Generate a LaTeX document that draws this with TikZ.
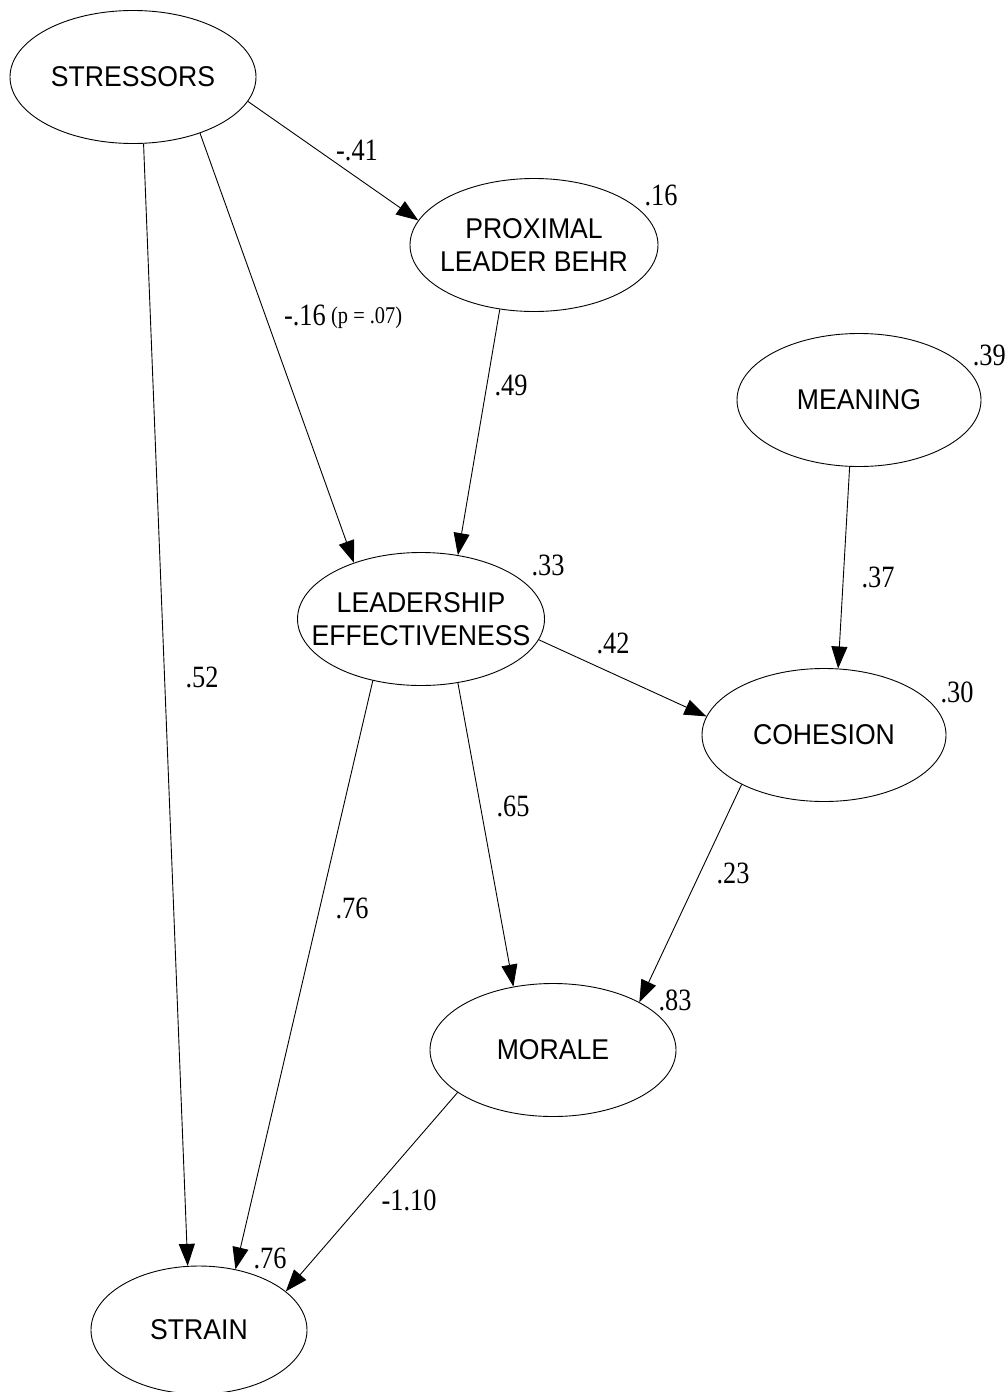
\documentclass[tikz,border=0pt]{standalone}
\usepackage{fontspec}
\usetikzlibrary{shapes.geometric,arrows.meta}
\newfontfamily\varfont[FakeStretch=0.93]{Liberation Sans}
\newfontfamily\coeffont[FakeStretch=0.85]{Liberation Serif}

\begin{document}
\begin{tikzpicture}[x=1pt,y=-1pt,
  latent/.style={ellipse, draw, line width=0.9pt, inner sep=0pt,
    minimum width=246pt, minimum height=133pt},
  varname/.style={font=\varfont\fontsize{28.6}{33}\selectfont, align=center, inner sep=0pt},
  coef/.style={font=\coeffont\fontsize{31}{34}\selectfont, inner sep=0pt},
  small/.style={font=\coeffont\fontsize{24}{28}\selectfont, inner sep=0pt},
  path/.style={line width=0.9pt, -{Triangle[length=22pt,width=16pt]}}]

\useasboundingbox (0,0) rectangle (1007,1392);

% latent variables
\node[latent, label={[varname]center:STRESSORS}] (str) at (133,77) {};
\node[latent, minimum width=248pt, label={[varname]center:{PROXIMAL\\LEADER BEHR}}] (plb) at (534,245) {};
\node[latent, minimum width=244pt, label={[varname]center:MEANING}] (mea) at (859,400) {};
\node[latent, minimum width=247pt, label={[varname]center:{LEADERSHIP\\EFFECTIVENESS}}] (lef) at (421,619) {};
\node[latent, minimum width=244pt, label={[varname]center:COHESION}] (coh) at (824,735) {};
\node[latent, label={[varname]center:MORALE}] (mor) at (553,1050) {};
\node[latent, minimum width=216pt, minimum height=128pt, label={[varname]center:STRAIN}] (stn) at (199,1330) {};

% structural paths
\draw[path] (str.-12.8) -- (plb.168.8);
\draw[path] (str.-40.5) -- (lef.140.4);
\draw[path] (str.-81.5) -- (stn.100.6);
\draw[path] (plb.-118.3) -- (lef.60.2);
\draw[path] (mea.-98.6) -- (coh.78.2);
\draw[path] (lef.-10.5) -- (coh.171.5);
\draw[path] (lef.-60.7) -- (mor.122.6);
\draw[path] (lef.-128.7) -- (stn.59.2);
\draw[path] (coh.-149) -- (mor.29.5);
\draw[path] (mor.-156.5) -- (stn.24.2);

% path coefficients
\node[coef] (c1) at (357,150) {-.41};
\node[coef, anchor=east] (c2) at (326,315) {-.16};
\node[small, anchor=west] (c2p) at (331,318) {(p = .07)};
\node[coef] (c3) at (202,677) {.52};
\node[coef] (c4) at (511,385) {.49};
\node[coef] (c5) at (878,577) {.37};
\node[coef] (c6) at (613,643) {.42};
\node[coef] (c7) at (513,806) {.65};
\node[coef] (c8) at (352,908) {.76};
\node[coef] (c9) at (733,873) {.23};
\node[coef] (c10) at (409,1200) {-1.10};

% explained variance
\node[coef] (r1) at (661,195) {.16};
\node[coef, anchor=east] (r2) at (1006,355) {.39};
\node[coef] (r3) at (548,565) {.33};
\node[coef] (r4) at (957,692) {.30};
\node[coef] (r5) at (675,1000) {.83};
\node[coef] (r6) at (270,1258) {.76};
\end{tikzpicture}
\end{document}
